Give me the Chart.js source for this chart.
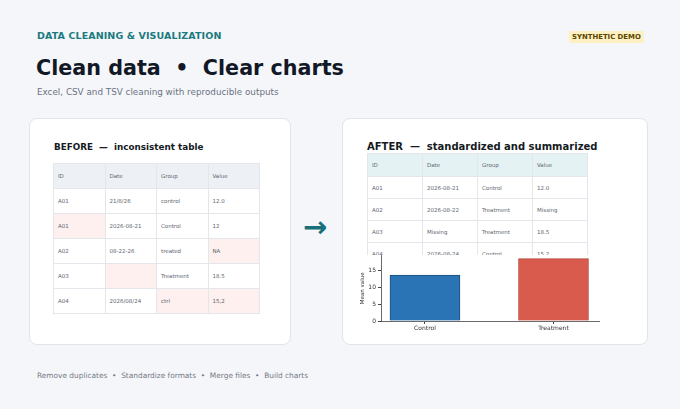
<!DOCTYPE html>
<html>
<head>
<meta charset="utf-8">
<script src="https://cdn.jsdelivr.net/npm/chart.js@4/dist/chart.umd.min.js"></script>
<style>
  html, body { margin: 0; padding: 0; }
  body { width: 680px; height: 409px; background: #f5f6fa; font-family: "DejaVu Sans", sans-serif; position: relative; overflow: hidden; }
  .abs { position: absolute; white-space: nowrap; }
  .kicker { left: 37px; top: 30px; font-size: 9.5px; font-weight: bold; color: #1b7a80; letter-spacing: 0.1px; }
  .title { left: 36px; top: 56px; font-size: 20.7px; font-weight: bold; color: #121826; }
  .sub { left: 37px; top: 87px; font-size: 8.8px; color: #6b7280; }
  .badge { left: 569px; top: 31px; padding: 2px 3px; font-size: 6.9px; font-weight: bold; color: #5a4500; background: #fdf0c2; border-radius: 2px; }
  .card { background: #fff; border: 1px solid #e1e4ea; border-radius: 8px; }
  .ctitle { font-weight: bold; color: #151a23; }
  table { border-collapse: collapse; position: absolute; table-layout: fixed; }
  td { border: 1px solid #e3e6ea; font-size: 5.5px; color: #606670; padding: 0 0 0 4px; background: #fff; }
  tr.head td { background: #edf1f5; }
  #after tr.head td { background: #e5f2f4; }
  td.bad { background: #fdf0ef; }
  .arrow { left: 303px; top: 210px; font-size: 29px; font-weight: bold; color: #17707a; }
  .foot { left: 37px; top: 371px; font-size: 7.4px; color: #737985; }
  #chartBox { position: absolute; left: 355px; top: 250px; width: 270px; height: 88px; }
</style>
</head>
<body>
<div class="abs kicker">DATA CLEANING &amp; VISUALIZATION</div>
<div class="abs title">Clean data &nbsp;•&nbsp; Clear charts</div>
<div class="abs sub">Excel, CSV and TSV cleaning with reproducible outputs</div>
<div class="abs badge">SYNTHETIC DEMO</div>

<div class="abs card" style="left:29px;top:118px;width:260px;height:225px;"></div>
<div class="abs card" style="left:342px;top:118px;width:304px;height:225px;"></div>

<div class="abs ctitle" style="left:54px;top:142px;font-size:8.8px;">BEFORE &nbsp;—&nbsp; inconsistent table</div>
<div class="abs ctitle" style="left:367px;top:141px;font-size:10px;">AFTER &nbsp;—&nbsp; standardized and summarized</div>

<table id="before" style="left:53px;top:163px;width:207px;"></table>
<table id="after" style="left:367px;top:153px;width:221px;"></table>

<div class="abs arrow">→</div>

<div id="chartBox"><canvas id="meanChart"></canvas></div>

<div class="abs foot">Remove duplicates &nbsp;•&nbsp; Standardize formats &nbsp;•&nbsp; Merge files &nbsp;•&nbsp; Build charts</div>

<script>
const columns = ['ID', 'Date', 'Group', 'Value'];
const beforeRows = [
    ['A01', '21/8/26', 'control', '12.0'],
    ['A01', '2026-08-21', 'Control', '12'],
    ['A02', '08-22-26', 'treated', 'NA'],
    ['A03', '', 'Treatment', '18.5'],
    ['A04', '2026/08/24', 'ctrl', '15,2']
];
// [row, col] cells flagged as problems in the raw table
const beforeFlags = [[1, 0], [2, 3], [3, 1], [4, 2], [4, 3]];
const afterRows = [
    ['A01', '2026-08-21', 'Control', '12.0'],
    ['A02', '2026-08-22', 'Treatment', 'Missing'],
    ['A03', 'Missing', 'Treatment', '18.5'],
    ['A04', '2026-08-24', 'Control', '15.2']
];
const groups = ['Control', 'Treatment'];
const groupMeans = [13.6, 18.5];
const barColors = ['#2a74b6', '#d95b4d'];
const barEdges = ['#1d4f7c', '#b5473b'];
const yTicks = [0, 5, 10, 15];

function fillTable(id, rows, flags, headH, rowH) {
    const table = document.getElementById(id);
    let html = `<tr class="head" style="height:${headH}px">` + columns.map(c => `<td>${c}</td>`).join('') + '</tr>';
    rows.forEach((row, r) => {
        html += `<tr style="height:${rowH}px">`;
        row.forEach((cell, c) => {
            const bad = flags.some(f => f[0] === r && f[1] === c);
            html += `<td class="${bad ? 'bad' : ''}">${cell}</td>`;
        });
        html += '</tr>';
    });
    table.innerHTML = html;
}

fillTable('before', beforeRows, beforeFlags, 25, 25);
fillTable('after', afterRows, [], 23, 22);

const ctx = document.getElementById('meanChart').getContext('2d');
new Chart(ctx, {
    type: 'bar',
    data: {
        datasets: [{
            data: groups.map((g, i) => ({ x: i, y: groupMeans[i] })),
            backgroundColor: barColors,
            borderColor: barEdges,
            borderWidth: 1,
            barThickness: 70
        }]
    },
    plugins: [{
        id: 'whiteBg',
        beforeDraw: chart => {
            const c = chart.ctx;
            c.save();
            c.fillStyle = '#fff';
            c.fillRect(0, 5, chart.width, chart.height - 5);
            c.restore();
        }
    }],
    options: {
        responsive: true,
        maintainAspectRatio: false,
        animation: false,
        layout: { padding: { top: 5, right: 26, left: 0, bottom: 0 } },
        plugins: { legend: { display: false }, tooltip: { enabled: false } },
        scales: {
            x: {
                type: 'linear',
                offset: false,
                min: -0.342,
                max: 1.354,
                afterBuildTicks: s => { s.ticks = groups.map((g, i) => ({ value: i })); },
                afterFit: s => { s.height = 17; },
                ticks: {
                    callback: v => groups[v],
                    font: { family: 'DejaVu Sans', size: 6 },
                    color: '#333',
                    padding: 1,
                    maxRotation: 0
                },
                grid: { offset: false, drawOnChartArea: false, tickLength: 3, color: '#444' },
                border: { color: '#444', width: 0.8 }
            },
            y: {
                min: 0,
                max: 19.4,
                afterBuildTicks: s => { s.ticks = yTicks.map(v => ({ value: v })); },
                afterFit: s => { s.width = 26; },
                ticks: {
                    font: { family: 'DejaVu Sans', size: 6 },
                    color: '#333',
                    padding: 2
                },
                title: {
                    display: true,
                    text: 'Mean value',
                    font: { family: 'DejaVu Sans', size: 5.5 },
                    color: '#333',
                    padding: { top: 4, bottom: 0 }
                },
                grid: { drawOnChartArea: false, tickLength: 3, color: '#444' },
                border: { color: '#444', width: 0.8 }
            }
        }
    }
});
</script>
</body>
</html>
